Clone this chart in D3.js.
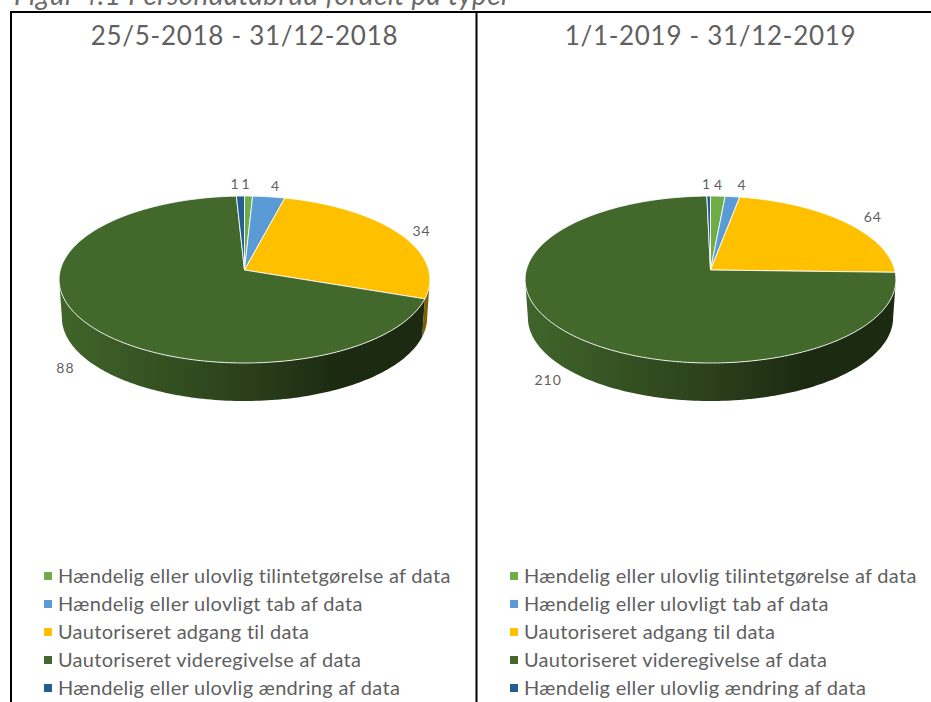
<!DOCTYPE html>
<html>
<head>
<meta charset="utf-8">
<script src="https://cdn.jsdelivr.net/npm/d3@7"></script>
<style>
  html, body { margin: 0; padding: 0; background: #fff; overflow: hidden; }
  text { font-family: Lato, "Open Sans", sans-serif; fill: #5f5f5f; }
</style>
</head>
<body>
<svg id="chart" width="931" height="702"></svg>
<script>
// Data
const caption = "Figur 4.1 Persondatabrud fordelt på typer";
const categories = [
  "Hændelig eller ulovlig tilintetgørelse af data",
  "Hændelig eller ulovligt tab af data",
  "Uautoriseret adgang til data",
  "Uautoriseret videregivelse af data",
  "Hændelig eller ulovlig ændring af data"
];
const colors = ["#70ad47", "#5b9bd5", "#ffc000", "#43682b", "#255e91"];
const wallColors = ["#38562a", "#2e5a80", "#7f6000", "#2b401b", "#1a4265"];
const periods = ["25/5-2018 - 31/12-2018", "1/1-2019 - 31/12-2019"];
const values2018 = [1, 4, 34, 88, 1];
const values2019 = [4, 4, 64, 210, 1];

// Layout
const svg = d3.select("svg#chart");
const rx = 184.2,        // horizontal radius before perspective
      ry = 82.4,         // vertical radius before perspective
      persp = 0.114,     // how much the back of the pie shrinks
      depth = 38,        // height of the pie wall
      pieY = 270,
      labelRadius = 1.13;

// Where the wall of the pie becomes visible (tangent of the ellipse)
const wallFrom = Math.PI / 2 + Math.asin(persp),
      wallTo = 3 * Math.PI / 2 - Math.asin(persp);

const color = d3.scaleOrdinal().domain(categories).range(colors);
const wallColor = d3.scaleOrdinal().domain(categories).range(wallColors);
const legendY = d3.scalePoint().domain(categories).range([576, 688]);

// Small corrections for the data labels, in order of the categories
const nudge2018 = [[-3, -3], [4, -2], [4, 2], [2, 0], [-5, -3]];
const nudge2019 = [[0, -3], [7, -3], [13, 1], [0, 0], [-2, -3]];

// Circle angle (clockwise from top) to screen offset from the pie centre
function project(angle, r) {
  const u = r * Math.sin(angle), v = r * Math.cos(angle);
  const w = 1 + persp * v;
  return [rx * u / w, -ry * v / w];
}

function sampleAngles(a0, a1) {
  const n = Math.max(2, Math.ceil(Math.abs(a1 - a0) / 0.02));
  return d3.range(n + 1).map(i => a0 + (a1 - a0) * i / n);
}

const line = d3.line();

function drawPanel(panelX, cx, title, values, nudge, idx) {
  const g = svg.append("g");

  g.append("text")
    .attr("x", cx)
    .attr("y", 45)
    .attr("text-anchor", "middle")
    .style("font-size", "26px")
    .style("letter-spacing", "0.7px")
    .text(title);

  const arcs = d3.pie().sort(null).value(d => d)(values);

  // gradient along the pie wall, light on the left and dark to the right
  // (user space of the pie group, so centred on 0)
  const gradId = "wall" + idx;
  const grad = svg.append("linearGradient")
    .attr("id", gradId)
    .attr("gradientUnits", "userSpaceOnUse")
    .attr("x1", -rx).attr("x2", rx)
    .attr("y1", 0).attr("y2", 0);
  grad.append("stop").attr("offset", "0").attr("stop-color", "#40652a");
  grad.append("stop").attr("offset", "0.5").attr("stop-color", "#2b401b");
  grad.append("stop").attr("offset", "0.76").attr("stop-color", "#1b2a10");
  grad.append("stop").attr("offset", "1").attr("stop-color", "#1c2a11");

  const pie = g.append("g").attr("transform", "translate(" + cx + "," + pieY + ")");

  // Walls first, only the part of each slice facing the viewer
  arcs.forEach(function(d, i) {
    const a0 = Math.max(d.startAngle, wallFrom), a1 = Math.min(d.endAngle, wallTo);
    if (a1 <= a0) return;
    const top = sampleAngles(a0, a1).map(a => project(a, 1));
    const bottom = sampleAngles(a1, a0).map(function(a) {
      const p = project(a, 1);
      return [p[0] * 0.985, p[1] + depth];
    });
    pie.append("path")
      .attr("d", line(top.concat(bottom)) + "Z")
      .attr("fill", i == 3 ? "url(#" + gradId + ")" : wallColor(categories[i]));
  });

  // Top faces of the slices
  arcs.forEach(function(d, i) {
    const pts = [[0, 0]].concat(sampleAngles(d.startAngle, d.endAngle).map(a => project(a, 1)));
    pie.append("path")
      .attr("d", line(pts) + "Z")
      .attr("fill", color(categories[i]))
      .attr("stroke", "#fff")
      .attr("stroke-opacity", 0.85)
      .attr("stroke-width", 1)
      .attr("stroke-linejoin", "round");
  });

  // Data labels
  arcs.forEach(function(d, i) {
    const mid = (d.startAngle + d.endAngle) / 2;
    const p = project(mid, labelRadius);
    const front = Math.cos(mid) < 0;
    pie.append("text")
      .attr("x", p[0] + nudge[i][0])
      .attr("y", p[1] + (front ? depth : 0) + nudge[i][1])
      .attr("dy", "0.35em")
      .attr("text-anchor", "middle")
      .style("font-size", "14px")
      .style("letter-spacing", "1px")
      .text(d.value);
  });

  // Legend
  const legend = g.selectAll("g.legend")
    .data(categories)
    .enter()
    .append("g")
    .attr("class", "legend")
    .attr("transform", d => "translate(" + (panelX + 34) + "," + legendY(d) + ")");

  legend.append("rect")
    .attr("x", 0).attr("y", -4)
    .attr("width", 8).attr("height", 8)
    .attr("fill", d => color(d));

  legend.append("text")
    .attr("x", 14)
    .attr("dy", "0.35em")
    .style("font-size", "20px")
    .style("letter-spacing", "0.3px")
    .text(d => d);
}

// Caption, cut off by the top of the picture
svg.append("text")
  .attr("x", 14)
  .attr("y", 5)
  .style("font-size", "28px")
  .style("font-style", "italic")
  .style("letter-spacing", "0.35px")
  .style("fill", "#6b6b6b")
  .text(caption);

drawPanel(10, 244.5, periods[0], values2018, nudge2018, 0);
drawPanel(476, 710.5, periods[1], values2019, nudge2019, 1);

// Black frame of the two panels, open to the right and at the bottom
svg.append("path")
  .attr("d", "M11,702V12H931M476.5,12V702")
  .attr("fill", "none")
  .attr("stroke", "#000")
  .attr("stroke-width", 2);
</script>
</body>
</html>
